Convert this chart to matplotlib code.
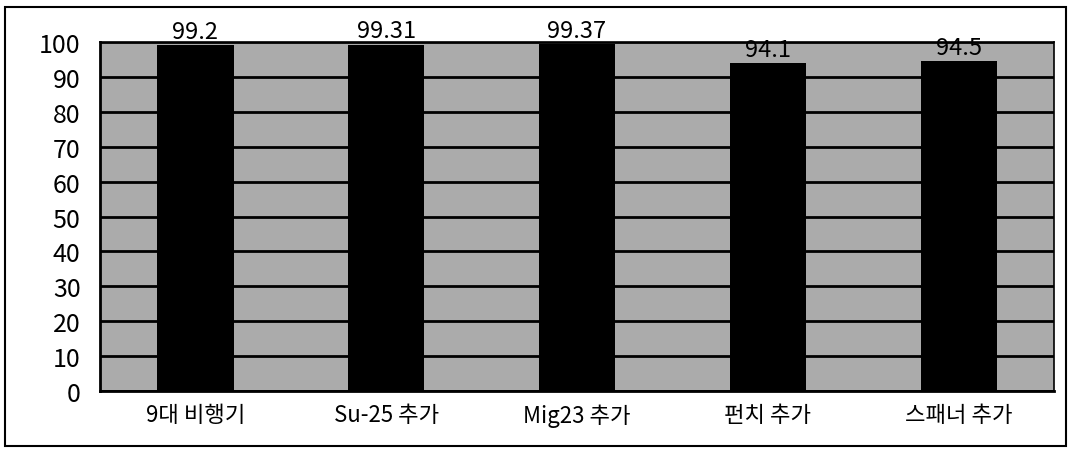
import numpy as np
import matplotlib.pyplot as plt
from matplotlib.patches import Rectangle

plt.rcParams['font.family'] = ['Noto Sans CJK KR', 'DejaVu Sans']

categories = ['9대 비행기', 'Su-25 추가', 'Mig23 추가', '펀치 추가', '스패너 추가']
values = [99.2, 99.31, 99.37, 94.1, 94.5]
value_labels = ['99.2', '99.31', '99.37', '94.1', '94.5']

fig = plt.figure(figsize=(10.72, 4.56), dpi=100)
ax = fig.add_axes([0.0933, 0.1404, 0.890, 0.765])

x = np.arange(len(categories))
ax.set_facecolor('#ababab')
ax.bar(x, values, width=0.4, color='black', zorder=3)

for i, v in enumerate(values):
    ax.text(x[i], v + 0.6, value_labels[i], ha='center', va='bottom', fontsize=17,
            fontweight='medium', zorder=4, clip_on=False)

ax.set_xlim(-0.5, len(categories) - 0.5)
ax.set_ylim(0, 100)
ax.set_yticks(np.arange(0, 101, 10))
ax.set_yticklabels([str(t) for t in range(0, 101, 10)], fontsize=18, fontweight='medium')
ax.set_xticks(x)
ax.set_xticklabels(categories, fontsize=16, fontweight='medium')
ax.tick_params(axis='both', length=0)
ax.tick_params(axis='y', pad=14)
ax.tick_params(axis='x', pad=9)

ax.grid(axis='y', color='black', linewidth=2, zorder=1)
ax.set_axisbelow(True)
for s in ax.spines.values():
    s.set_color('black')
    s.set_linewidth(1.2)
ax.spines['left'].set_linewidth(2)
ax.spines['bottom'].set_linewidth(2)

fig.patches.append(Rectangle((5 / 1072, 1 - 447 / 456), 1061 / 1072, 439 / 456,
                             transform=fig.transFigure, fill=False,
                             edgecolor='black', linewidth=1.5))

fig.savefig('out.png', dpi=100, facecolor='white')
